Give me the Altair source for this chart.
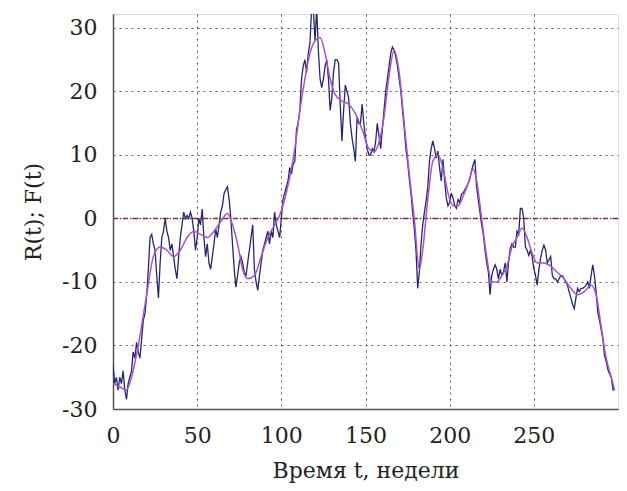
import altair as alt
import pandas as pd

# R(t): weekly noisy series, t = 0..298
r_vals = [
    -23, -26, -25, -27, -25, -26, -24, -27, -28.5, -26,
    -25, -24, -21, -22, -19.5, -21, -22, -19, -16, -15,
    -12, -8, -3, -2.5, -4, -5, -9, -12.5, -7, -3,
    -2, 0, -2, -3, -5, -4, -6, -8, -9.5, -6,
    -3, -1, 1, 0, 0.5, 0, 1, 0, -2, -5,
    -3, 0, -1, 1.5, -3, -6, -4, -7, -8, -6,
    -4, -1.6, -3, -1, 1, 2, 4, 4.5, 5, 3,
    0, -4, -8, -10.8, -9, -7, -6, -7, -8.5, -9,
    -7, -5, -3, -1, -8, -10, -11.3, -9, -7, -5,
    -4, -3, -2, -4, -2, -3, 1, -1, -2, -3,
    0, 3, 4, 5, 6, 8, 7, 8.5, 9, 14,
    15, 17, 22, 24, 25, 23, 26, 27.6, 33, 33,
    28, 33, 26.5, 22, 20.6, 22, 24, 25, 22, 17,
    19, 23, 25, 25, 24.5, 18, 12.2, 17, 21, 20,
    19, 15, 12.7, 11, 9, 16, 15, 15, 18, 15,
    12.7, 11, 10, 10, 11, 10.5, 12, 15, 13, 11,
    14, 17, 20, 22, 24, 26, 27, 26.5, 25.5, 24,
    22, 20, 17, 14.3, 11, 9, 6.3, 4, 1, -1.6,
    -5, -11, -8.4, -4, -1, 1, 2.7, 5, 9, 11,
    12.2, 11, 9.5, 10.6, 8, 5.9, 9.3, 6, 3.2, 2,
    2.5, 4, 3.2, 2, 1.6, 3, 2.5, 3.8, 4, 4.5,
    5, 5.5, 6.3, 7.5, 8.5, 9.3, 5, 3, 1, -1,
    -2.5, -5, -7, -8.4, -12, -9, -8, -7.3, -8, -9.5,
    -8, -9, -8.4, -7, -10, -6.8, -4.7, -4, -4.5, -4.5,
    -2, -2.5, 1.6, 1.6, 0, -4.5, -5, -5.8, -5, -6,
    -7.9, -9, -10.5, -8, -6.3, -5, -4.2, -5, -7, -6.5,
    -6, -9, -9.5, -9.5, -10, -9.5, -9, -9, -9.5, -10,
    -10.5, -11.6, -12.5, -13.5, -14.2, -12.5, -11, -11.5, -11, -11,
    -10.8, -10.5, -10, -11, -9, -7.3, -9, -11.6, -14.8, -16,
    -17.5, -19, -21.6, -22.5, -23.8, -24.5, -25, -27, -27,
]
r_t = list(range(len(r_vals)))

# F(t): smoothed series
f_t = [0, 4, 8, 11, 15, 20, 24, 28, 32, 36, 40, 44, 48, 52, 56, 60, 64, 68, 71, 74,
       77, 80, 84, 88, 92, 96, 99, 102, 105, 108, 111, 114, 117, 120, 123, 126, 129, 132, 136, 140,
       144, 148, 152, 155, 158, 161, 164, 167, 170, 173, 176, 179, 182, 184, 187, 190, 193, 196, 199, 202,
       205, 208, 211, 214, 216, 219, 222, 225, 228, 231, 234, 237, 240, 243, 246, 249, 252, 256, 260, 264,
       268, 272, 276, 280, 284, 287, 290, 293, 296, 298]
f_vals = [-26, -26.5, -27, -25, -20, -12, -6, -4.5, -5, -6, -5, -3, -2, -2.5, -3, -2, -0.5, 0.8, -1, -4,
          -8, -9.5, -9, -6, -3, -1, 0.5, 3, 6.5, 11, 17, 22, 26, 28, 28.5, 26, 22, 19.5, 18.5, 18,
          16.5, 14, 11, 10.5, 12, 16, 22.5, 26.5, 23, 15, 7, 0, -8, -5, 3, 9, 10, 8, 4, 2,
          2, 3.5, 5.5, 7.8, 6, 0, -6, -10, -10, -9, -7.5, -4.5, -3, -1.5, -3, -5.5, -7, -7, -7.5, -8.5,
          -9.5, -11, -12, -11.5, -10.5, -12, -17, -22, -25, -27]

x_ticks = [0, 50, 100, 150, 200, 250]
y_ticks = [-30, -20, -10, 0, 10, 20, 30]

df_r = pd.DataFrame({"t": r_t, "v": r_vals})
df_f = pd.DataFrame({"t": f_t, "v": f_vals})
df_zero = pd.DataFrame({"y": [0]})

FONT = "DejaVu Serif"

xs = alt.Scale(domain=[0, 300], nice=False, zero=False)
ys = alt.Scale(domain=[-30, 32.2], nice=False, zero=False)

common = dict(grid=True, gridDash=[2, 4], gridColor="#444", gridOpacity=0.85, gridWidth=1,
              domainColor="#555", domainWidth=1.5, tickSize=0, labelFlush=False,
              labelFont=FONT, labelFontSize=22, labelColor="#222", labelPadding=16,
              labelExpr="datum.value + ''",
              titleFont=FONT, titleFontSize=22, titleFontWeight="normal", titleColor="#222")

x_axis = alt.Axis(values=x_ticks, title="Время t, недели", titlePadding=14, **common)
y_axis = alt.Axis(values=y_ticks, title="R(t); F(t)", titlePadding=16, **common)

r_line = alt.Chart(df_r).mark_line(color="#26266e", strokeWidth=1.3, clip=True).encode(
    x=alt.X("t:Q", scale=xs, axis=x_axis),
    y=alt.Y("v:Q", scale=ys, axis=y_axis),
)
f_line = alt.Chart(df_f).mark_line(color="#a852cc", strokeWidth=1.5, clip=True,
                                   interpolate="monotone").encode(
    x=alt.X("t:Q", scale=xs),
    y=alt.Y("v:Q", scale=ys),
)
zero = alt.Chart(df_zero).mark_rule(color="#8e2a2a", strokeWidth=1.4,
                                    strokeDash=[5, 2, 1, 2]).encode(y=alt.Y("y:Q", scale=ys))

chart = alt.layer(zero, r_line, f_line).properties(
    width=505, height=395,
    autosize=alt.AutoSizeParams(type="none"),
    padding={"left": 113, "top": 14, "right": 9, "bottom": 82},
).configure_view(stroke=None).configure(background="white")

chart.save("out.html", embed_options={"renderer": "svg", "actions": False})
